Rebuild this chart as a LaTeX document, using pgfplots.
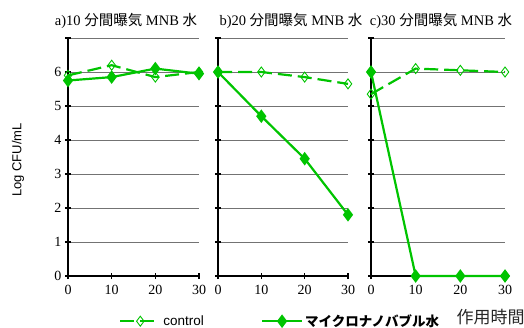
\documentclass[border=0pt]{standalone}
\usepackage{pgfplots}
\pgfplotsset{compat=1.18}
\usepackage{fontspec}
\setmainfont{Liberation Serif}
\newfontfamily\jp{Noto Sans CJK JP}
\newfontfamily\sansf{Liberation Sans}
\definecolor{gr}{RGB}{0,196,0}
\begin{document}
\begin{tikzpicture}
\useasboundingbox (0pt,0pt) rectangle (524pt,327pt);
\pgfplotsset{
  panel/.style={
    scale only axis, anchor=south west, height=238pt,
    xmin=0, xmax=30, ymin=0, ymax=7,
    xtick={0,10,20,30}, ytick={0,1,2,3,4,5,6,7},
    axis lines=left, axis line style={-, line width=2.4pt, black},
    ymajorgrids, grid style={black!55, line width=1pt},
    clip=false,
    tick style={black, line width=1.5pt}, major tick length=6pt,
    tick align=center,
    tick label style={font=\fontsize{14}{16}\selectfont},
    /pgf/number format/assume math mode=true,
    xticklabel style={yshift=-3pt},
    legend image code/.code={\draw[mark repeat=2,mark phase=2] plot coordinates {(0pt,0pt)(20pt,0pt)(40pt,0pt)};},
  },
  ctrl/.style={gr, line width=2.2pt, dash pattern=on 14pt off 6pt, mark=diamond, mark size=5pt, mark options={solid, line width=0.9pt, fill=white}},
  mnb/.style={gr, line width=2.2pt, mark=diamond*, mark size=5pt, mark options={solid, fill=gr}},
}
% panel a
\begin{axis}[panel, at={(68pt,51pt)}, width=131pt,
  yticklabels={0,1,2,3,4,5,6,{}},
  legend columns=2,
  legend style={at={(1.62,-0.19)}, anchor=center, draw=none, fill=none,
    font=\sansf\fontsize{13.5}{15}\selectfont, /tikz/every even column/.append style={column sep=55pt}}]
\addplot[ctrl] coordinates {(0,5.9) (10,6.2) (20,5.85) (30,6.0)};
\addlegendentry{control}
\addplot[mnb] coordinates {(0,5.75) (10,5.85) (20,6.1) (30,5.95)};
\addlegendentry{\jp\bfseries マイクロナノバブル水}
\end{axis}
% panel b
\begin{axis}[panel, at={(218pt,51pt)}, width=130pt, yticklabels={}]
\addplot[ctrl] coordinates {(0,6.0) (10,6.0) (20,5.85) (30,5.65)};
\addplot[mnb] coordinates {(0,6.0) (10,4.7) (20,3.45) (30,1.8)};
\end{axis}
% panel c
\begin{axis}[panel, at={(371pt,51pt)}, width=134pt, yticklabels={}]
\addplot[ctrl] coordinates {(0,5.35) (10,6.1) (20,6.05) (30,6.0)};
\addplot[mnb] coordinates {(0,6.0) (10,0) (20,0) (30,0)};
\end{axis}
\node[font=\fontsize{14.5}{16}\selectfont] at (126pt,306pt) {a)10 {\jp 分間曝気} MNB {\jp 水}};
\node[font=\fontsize{14.5}{16}\selectfont] at (291pt,306pt) {b)20 {\jp 分間曝気} MNB {\jp 水}};
\node[font=\fontsize{14.5}{16}\selectfont] at (441pt,306pt) {c)30 {\jp 分間曝気} MNB {\jp 水}};
\node[rotate=90, font=\sansf\fontsize{13}{15}\selectfont] at (18pt,167pt) {Log CFU/mL};
\node[anchor=west, font=\jp\fontsize{17}{19}\selectfont, gray!30!black] at (453pt,10pt) {作用時間};
\end{tikzpicture}
\end{document}
